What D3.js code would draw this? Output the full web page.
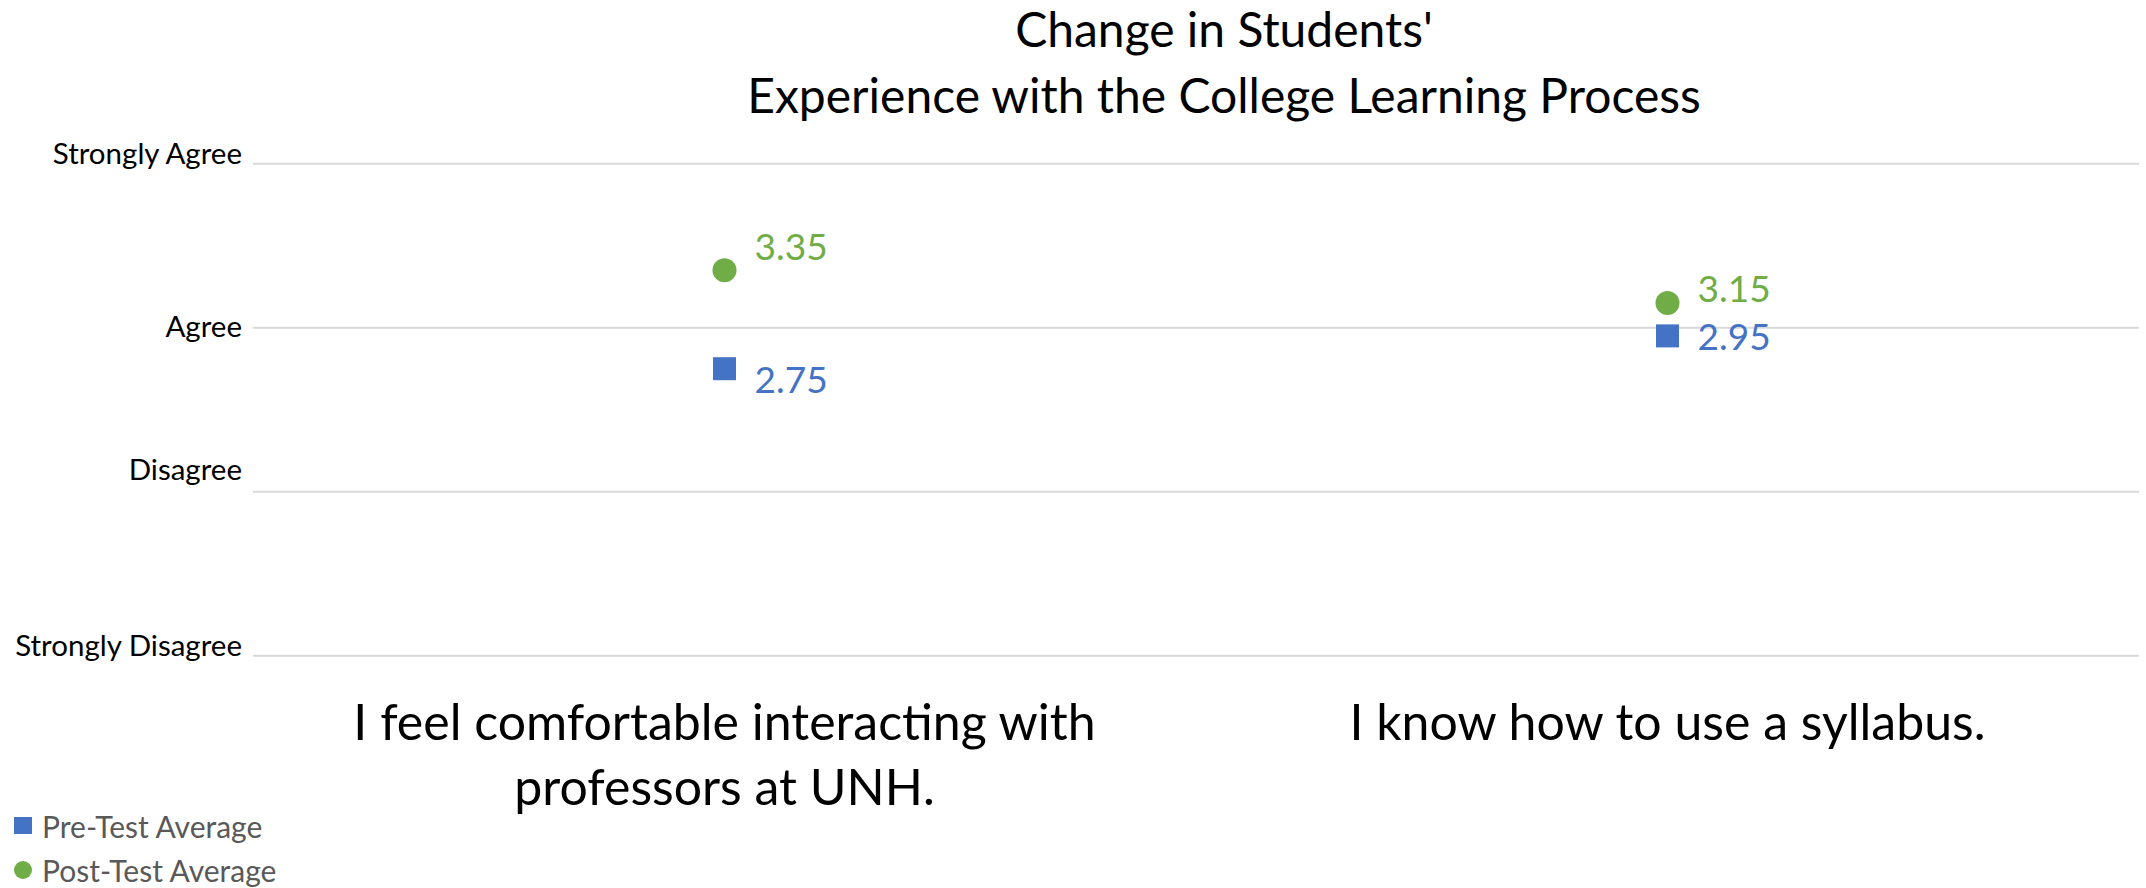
<!DOCTYPE html>
<html>
<head>
<meta charset="utf-8">
<script src="https://cdn.jsdelivr.net/npm/d3@7"></script>
<style>
  html, body { margin: 0; padding: 0; background: #fff; }
  svg { display: block; font-family: Lato, "Open Sans", sans-serif; }
</style>
</head>
<body>
<svg id="chart" width="2146" height="888"></svg>
<script>
'use strict'

// data
var categories = [
  ['I feel comfortable interacting with', 'professors at UNH.'],
  ['I know how to use a syllabus.']
];
var preTest = [2.75, 2.95];
var postTest = [3.35, 3.15];
var scaleValues = [1, 2, 3, 4];
var scaleLabels = ['Strongly Disagree', 'Disagree', 'Agree', 'Strongly Agree'];
var seriesNames = ['Pre-Test Average', 'Post-Test Average'];
var titleLines = ["Change in Students'", 'Experience with the College Learning Process'];

var blue = '#4472C4', green = '#70AD47';

var width = 2146, height = 888;
var plot = { left: 253, right: 2139, top: 163.7, bottom: 655.7 };

var svg = d3.select('#chart');

var x = d3.scalePoint()
  .domain(d3.range(categories.length))
  .range([plot.left, plot.right])
  .padding(0.5);

var y = d3.scaleLinear()
  .domain([1, 4])
  .range([plot.bottom, plot.top]);

// title
var title = svg.append('text')
  .attr('x', 1224)
  .attr('y', 47)
  .attr('text-anchor', 'middle')
  .style('font-size', '48px')
  .style('fill', '#000');
titleLines.forEach(function(t, i){
  title.append('tspan')
    .attr('x', 1224)
    .attr('dy', i == 0 ? 0 : 66)
    .text(t);
});

// gridlines
svg.append('g')
  .selectAll('line')
  .data(scaleValues)
  .enter()
  .append('line')
  .attr('x1', plot.left)
  .attr('x2', plot.right)
  .attr('y1', function(d){ return y(d); })
  .attr('y2', function(d){ return y(d); })
  .style('stroke', '#D9D9D9')
  .style('stroke-width', 2);

// scale labels sit a little off their lines, like the original
var tickNudge = [0, -12, 9, 0];
svg.append('g')
  .selectAll('text')
  .data(scaleValues)
  .enter()
  .append('text')
  .attr('x', 242)
  .attr('y', function(d, i){ return y(d) + tickNudge[i]; })
  .attr('text-anchor', 'end')
  .style('font-size', '29.5px')
  .style('fill', '#000')
  .text(function(d, i){ return scaleLabels[i]; });

// category labels
svg.append('g')
  .selectAll('text')
  .data(categories)
  .enter()
  .append('text')
  .attr('text-anchor', 'middle')
  .style('font-size', '50px')
  .style('fill', '#000')
  .each(function(lines, i){
    var t = d3.select(this);
    lines.forEach(function(l, j){
      t.append('tspan')
        .attr('x', x(i))
        .attr('y', 740 + j * 65)
        .text(l);
    });
  });

// markers
var msize = 23;
svg.append('g')
  .selectAll('rect')
  .data(preTest)
  .enter()
  .append('rect')
  .attr('x', function(d, i){ return x(i) - msize / 2; })
  .attr('y', function(d){ return y(d) - msize / 2; })
  .attr('width', msize)
  .attr('height', msize)
  .style('fill', blue);

svg.append('g')
  .selectAll('circle')
  .data(postTest)
  .enter()
  .append('circle')
  .attr('cx', function(d, i){ return x(i); })
  .attr('cy', function(d){ return y(d); })
  .attr('r', 12)
  .style('fill', green);

// data labels (hand placed in the original)
var preShift = [24, 14], postShift = [-10, -1];
svg.append('g')
  .selectAll('text')
  .data(preTest)
  .enter()
  .append('text')
  .attr('x', function(d, i){ return x(i) + 30; })
  .attr('y', function(d, i){ return y(d) + preShift[i]; })
  .style('font-size', '37px')
  .style('fill', blue)
  .text(function(d){ return d3.format('.2f')(d); });

svg.append('g')
  .selectAll('text')
  .data(postTest)
  .enter()
  .append('text')
  .attr('x', function(d, i){ return x(i) + 30; })
  .attr('y', function(d, i){ return y(d) + postShift[i]; })
  .style('font-size', '37px')
  .style('fill', green)
  .text(function(d){ return d3.format('.2f')(d); });

// legend
var legend = svg.append('g');
legend.append('rect')
  .attr('x', 14).attr('y', 817)
  .attr('width', 18).attr('height', 17)
  .style('fill', blue);
legend.append('circle')
  .attr('cx', 23).attr('cy', 870)
  .attr('r', 9)
  .style('fill', green);
legend.selectAll('text')
  .data(seriesNames)
  .enter()
  .append('text')
  .attr('x', 42)
  .attr('y', function(d, i){ return 838 + i * 44; })
  .style('font-size', '30px')
  .style('fill', '#595959')
  .text(function(d){ return d; });
</script>
</body>
</html>
